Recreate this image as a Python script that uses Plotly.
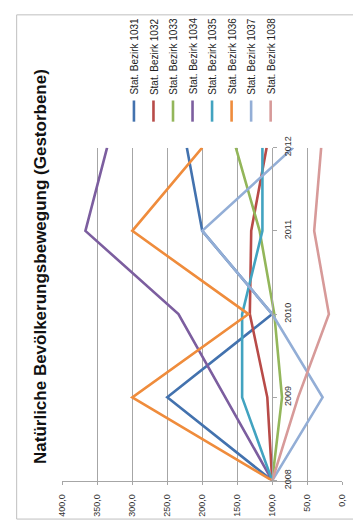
import plotly.graph_objects as go

years = [2008, 2009, 2010, 2011, 2012]
year_labels = ["2008", "2009", "2010", "2011", "2012"]
series_names = ["Stat. Bezirk 1031", "Stat. Bezirk 1032", "Stat. Bezirk 1033", "Stat. Bezirk 1034",
                "Stat. Bezirk 1035", "Stat. Bezirk 1036", "Stat. Bezirk 1037", "Stat. Bezirk 1038"]
v1031 = [100, 250, 100, 200, 222]
v1032 = [100, 107, 132, 130, 108]
v1033 = [100, 86, 97, 118, 152]
v1034 = [100, 167, 234, 367, 336]
v1035 = [100, 143, 143, 114, 114]
v1036 = [100, 300, 134, 300, 200]
v1037 = [100, 28, 100, 200, 70]
v1038 = [100, 63, 19, 40, 30]
value_ticks = [0, 50, 100, 150, 200, 250, 300, 350, 400]
value_labels = ["0,0", "50,0", "100,0", "150,0", "200,0", "250,0", "300,0", "350,0", "400,0"]
title_text = "Natürliche Bevölkerungsbewegung (Gestorbene)"

series_values = [v1031, v1032, v1033, v1034, v1035, v1036, v1037, v1038]
colors = ["#4372AE", "#B84B48", "#93B65A", "#7C5E9F", "#42A3C0", "#EF8C3C", "#93AED6", "#D79A99"]

W, H = 353, 530
def px_x(p):
    return p / W
def px_y(p):
    return (H - p) / H

fig = go.Figure()
for name, vals, col in zip(series_names, series_values, colors):
    fig.add_trace(go.Scatter(x=vals, y=years, mode="lines", name=name,
                             line=dict(color=col, width=2.6), showlegend=False))

fig.update_layout(
    width=W, height=H, margin=dict(l=0, r=0, t=0, b=0),
    paper_bgcolor="white", plot_bgcolor="white",
    font=dict(family="Liberation Sans, Arial, sans-serif", color="#333333"),
    xaxis=dict(domain=[px_x(59), px_x(347)], range=[400, 0], tickvals=value_ticks,
               ticktext=value_labels, tickangle=-90, showgrid=True, gridcolor="#A6A6A6",
               gridwidth=1, zeroline=False, showline=True, linecolor="#A6A6A6", linewidth=1,
               ticks="outside", ticklen=3, tickcolor="#A6A6A6", tickfont=dict(size=9, color="#333333"),
               ticklabelstandoff=6, anchor="y"),
    yaxis=dict(domain=[px_y(488), px_y(142)], range=[2008, 2012], tickvals=years,
               ticktext=year_labels, tickangle=-90, showgrid=False, zeroline=False,
               showline=True, linecolor="#A6A6A6", linewidth=1, ticks="outside", ticklen=4,
               tickcolor="#A6A6A6", anchor="free", position=px_x(275), side="right",
               ticklabelstandoff=3, tickfont=dict(size=9, color="#333333")),
)

# chart frame
fig.add_shape(type="rect", xref="paper", yref="paper", x0=px_x(12), x1=1.02, y0=px_y(528), y1=px_y(4),
              line=dict(color="#BFBFBF", width=1), fillcolor="rgba(0,0,0,0)", layer="below")

# title
fig.add_annotation(text="<b>" + title_text + "</b>", xref="paper", yref="paper",
                   x=px_x(36), y=px_y(265), textangle=-90, showarrow=False,
                   xanchor="center", yanchor="middle",
                   font=dict(size=17, color="#111111", family="Liberation Sans, Arial, sans-serif"))

# manual rotated legend
for i, (name, col) in enumerate(zip(series_names, colors)):
    xc = 132.7 + 20.1 * i
    fig.add_shape(type="line", xref="paper", yref="paper", x0=px_x(xc), x1=px_x(xc),
                  y0=px_y(115), y1=px_y(93), line=dict(color=col, width=2.6))
    fig.add_annotation(text=name, xref="paper", yref="paper", x=px_x(xc + 0.5), y=px_y(89),
                       textangle=-90, showarrow=False, xanchor="center", yanchor="bottom",
                       font=dict(size=10, color="#222222"))

fig.write_html("out.html", config={"displayModeBar": False},
               post_script="document.body.style.margin='0';document.body.style.overflow='hidden';")
